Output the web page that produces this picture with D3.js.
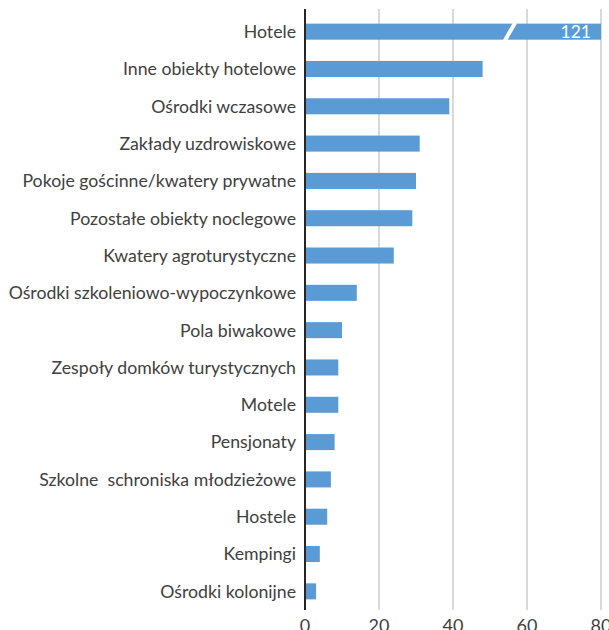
<!DOCTYPE html>
<html>
<head>
<meta charset="utf-8">
<script src="https://cdn.jsdelivr.net/npm/d3@7"></script>
<style>
  body { margin: 0; background: #fff; }
  text { font-family: Lato, "Open Sans", sans-serif; }
</style>
</head>
<body>
<div id="chart"></div>
<script>
// Liczba obiektów wg rodzaju
const categories = [
    "Hotele", "Inne obiekty hotelowe", "Ośrodki wczasowe", "Zakłady uzdrowiskowe",
    "Pokoje gościnne/kwatery prywatne", "Pozostałe obiekty noclegowe", "Kwatery agroturystyczne",
    "Ośrodki szkoleniowo-wypoczynkowe", "Pola biwakowe", "Zespoły domków turystycznych",
    "Motele", "Pensjonaty", "Szkolne  schroniska młodzieżowe", "Hostele", "Kempingi", "Ośrodki kolonijne"
];
const values = [121, 48, 39, 31, 30, 29, 24, 14, 10, 9, 9, 8, 7, 6, 4, 3];
const xTicks = [0, 20, 40, 60, 80];

const width = 609, height = 630;
const margin = { top: 13, right: 8, bottom: 20, left: 305 };

const svg = d3.select("#chart").append("svg")
    .attr("width", width)
    .attr("height", height);

const x = d3.scaleLinear().domain([0, 80]).range([margin.left, 601]);
const y = d3.scaleBand().domain(categories).range([margin.top, height - margin.bottom]).paddingInner(0.57).paddingOuter(0.285);

// grid lines
svg.append("g")
    .selectAll("line")
    .data(xTicks.slice(1))
    .join("line")
    .attr("x1", d => x(d)).attr("x2", d => x(d))
    .attr("y1", margin.top - 4).attr("y2", height - margin.bottom)
    .attr("stroke", "#d9d9d9")
    .attr("stroke-width", 2);

// bars
svg.append("g")
    .selectAll("rect")
    .data(values)
    .join("rect")
    .attr("x", x(0))
    .attr("y", (d, i) => y(categories[i]))
    .attr("width", d => x(Math.min(d, 80)) - x(0))
    .attr("height", y.bandwidth())
    .attr("fill", "#5b9bd5");

// break mark on the clipped bar
const bt = y(categories[0]), bb = bt + y.bandwidth();
svg.append("path")
    .attr("d", `M${x(54)},${bb + 1} L${x(56.8)},${bt - 1}`)
    .attr("stroke", "#fff")
    .attr("stroke-width", 4);

svg.append("text")
    .attr("x", x(80) - 10)
    .attr("y", bt + y.bandwidth() / 2)
    .attr("dy", "0.36em")
    .attr("text-anchor", "end")
    .attr("fill", "#fff")
    .attr("font-size", 17.5)
    .text(values[0]);

// category labels
svg.append("g")
    .selectAll("text")
    .data(categories)
    .join("text")
    .attr("x", margin.left - 9)
    .attr("y", d => y(d) + y.bandwidth() / 2)
    .attr("dy", "0.36em")
    .attr("text-anchor", "end")
    .attr("fill", "#404040")
    .attr("font-size", 17.7)
    .style("white-space", "pre")
    .text(d => d);

// x tick labels
svg.append("g")
    .selectAll("text")
    .data(xTicks)
    .join("text")
    .attr("x", d => x(d))
    .attr("y", height + 2)
    .attr("text-anchor", "middle")
    .attr("fill", "#404040")
    .attr("font-size", 18)
    .text(d => d);

// vertical axis line
svg.append("line")
    .attr("x1", x(0)).attr("x2", x(0))
    .attr("y1", margin.top - 4).attr("y2", height - margin.bottom)
    .attr("stroke", "#262626")
    .attr("stroke-width", 2);
</script>
</body>
</html>
